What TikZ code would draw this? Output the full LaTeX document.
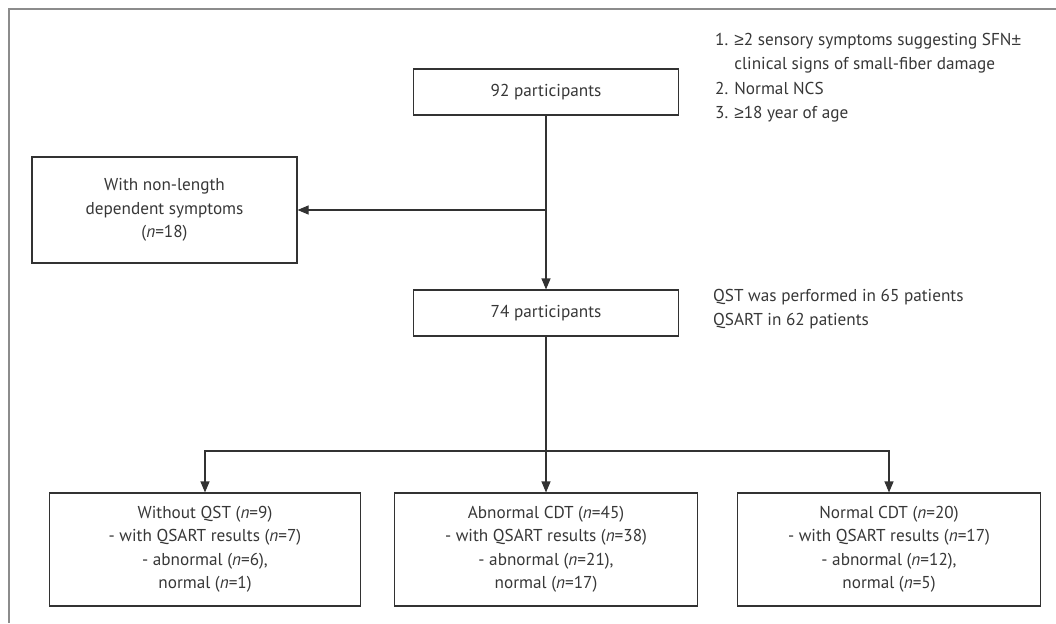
\documentclass[tikz,border=0pt]{standalone}
\usepackage{fontspec}
\setmainfont{PT Sans}
\newfontfamily\symfont{Liberation Sans}
\newcommand{\geqsym}{{\symfont ≥}}
\newcommand{\pmsym}{{\symfont ±}}
\definecolor{framegray}{RGB}{140, 140, 140}
\definecolor{linegray}{RGB}{50, 50, 50}
\definecolor{textgray}{RGB}{55, 55, 55}
\usetikzlibrary{arrows.meta, positioning, calc}

\begin{document}
\begin{tikzpicture}[x=1pt, y=-1pt,
    flowbox/.style={draw=linegray, line width=1.1pt, text=textgray, align=center, inner sep=0pt,
      font=\fontsize{17.2}{23.5}\selectfont},
    note/.style={text=textgray, align=left, inner sep=0pt, anchor=north west,
      font=\fontsize{17.2}{24.5}\selectfont},
    link/.style={draw=linegray, line width=1.1pt},
    arr/.style={link, -{Triangle[length=11pt, width=9pt]}}]
  \useasboundingbox (0,0) rectangle (1056,623);
  \draw[framegray, line width=2pt] (1056,9) -- (9,9) -- (9,623);

  % boxes
  \node[flowbox, minimum width=265pt, minimum height=46pt] (p92) at (546,92) {92 participants};
  \node[flowbox, minimum width=265pt, minimum height=106pt] (excl) at (164.5,210) {With non-length\\dependent symptoms\\(\textit{n}=18)};
  \node[flowbox, minimum width=265pt, minimum height=46pt] (p74) at (546,313) {74 participants};
  \node[flowbox, minimum width=311pt, minimum height=113pt] (noqst) at (205,549.5)
    {Without QST (\textit{n}=9)\\- with QSART results (\textit{n}=7)\\- abnormal (\textit{n}=6),\\normal (\textit{n}=1)};
  \node[flowbox, minimum width=303pt, minimum height=113pt] (abcdt) at (546,549.5)
    {Abnormal CDT (\textit{n}=45)\\- with QSART results (\textit{n}=38)\\- abnormal (\textit{n}=21),\\normal (\textit{n}=17)};
  \node[flowbox, minimum width=303pt, minimum height=113pt] (nocdt) at (889,549.5)
    {Normal CDT (\textit{n}=20)\\- with QSART results (\textit{n}=17)\\- abnormal (\textit{n}=12),\\normal (\textit{n}=5)};

  % side notes
  \node[note] (crit) at (715,33) {1. \geqsym2 sensory symptoms suggesting SFN\pmsym\\\hphantom{1. }clinical signs of small-fiber damage\\2. Normal NCS\\3. \geqsym18 year of age};
  \node[note] (tests) at (713,289) {QST was performed in 65 patients\\QSART in 62 patients};

  % connectors
  \coordinate (split) at (546,451);
  \draw[arr] (p92) -- (p74);
  \draw[arr] (p92.south |- excl.east) -- (excl.east);
  \draw[link] (p74) -- (split);
  \draw[arr] (split) -| (noqst);
  \draw[arr] (split) -- (abcdt);
  \draw[arr] (split) -| (nocdt);
\end{tikzpicture}
\end{document}
